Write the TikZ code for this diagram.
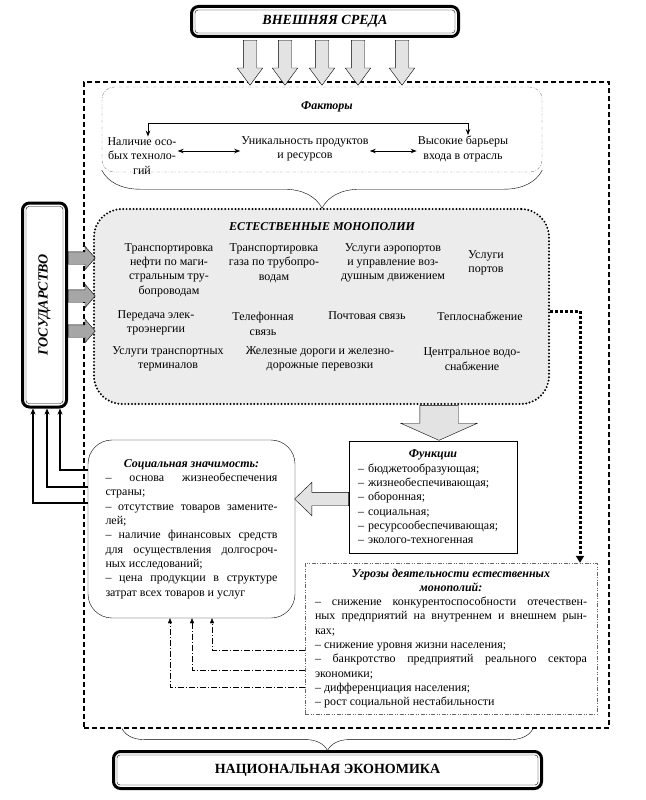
\documentclass[tikz,border=0pt]{standalone}
\usepackage{fontspec}
\setmainfont{Liberation Serif}
\usepackage{graphicx}
\usetikzlibrary{
    positioning,              % Relative positioning
    shapes.arrows,            % Fat block arrows
    arrows.meta,              % Modern arrow tips
    calc,                     % Coordinate calculations
    decorations.pathreplacing % Braces
}
% thin inner line of the double frames
\newcommand{\innerframe}[1]{%
    \draw[rounded corners=3pt] ($(#1.north west)+(5,5)$) rectangle ($(#1.south east)+(-5,-5)$);}

\begin{document}
\begin{tikzpicture}[x=1pt,y=-1pt,
    font=\fontsize{12}{14.3}\selectfont,
    frame/.style={draw,line width=3pt,rounded corners=7pt,inner sep=0pt},
    headline/.style={font=\fontsize{14}{16}\selectfont\bfseries},
    boldit/.style={font=\fontsize{12}{14.3}\selectfont\bfseries\itshape},
    fatarrow/.style n args={4}{single arrow,draw,inner xsep=0pt,inner ysep=#2,
        minimum height=#1,minimum width=0pt,
        single arrow head extend=#3,single arrow tip angle=#4},
    zone/.style={draw,line width=1.1pt,dash pattern=on 5pt off 3pt},
    factbox/.style={draw=gray,rounded corners=12pt,
        dash pattern=on 3pt off 1.5pt on 0.8pt off 1.5pt},
    monobox/.style={draw,fill=gray!15,rounded corners=28pt,line width=2.2pt,
        dash pattern=on 0pt off 3.4pt,line cap=round},
    service/.style={align=center,inner sep=1pt},
    socbox/.style={draw,rounded corners=24pt,text width=172pt,
        inner xsep=17.5pt,align=justify},
    funcbox/.style={draw,text width=150pt,inner xsep=9pt,align=left},
    threatbox/.style={draw=gray!80!black,text width=272pt,inner xsep=10pt,align=justify,
        dash pattern=on 4pt off 1.5pt on 1pt off 1.5pt on 1pt off 1.5pt},
    curly/.style={decorate,decoration={brace,amplitude=#1}},
    link/.style={-{Stealth[length=6pt,width=5pt]},line width=2pt},
    dashdot link/.style={-{Triangle[length=5pt,width=4pt]},
        dash pattern=on 6pt off 2pt on 1pt off 2pt},
    bigdots/.style={-{Triangle[length=7pt,width=8pt]},line width=3pt,
        dash pattern=on 3pt off 2pt},
    twoway/.style={{Stealth[length=6pt]}-{Stealth[length=6pt]},line width=0.8pt},
]
\useasboundingbox (0,0) rectangle (645,800);

% dashed frame of the whole system
\node[zone,minimum width=525pt,minimum height=646pt] (zone) at (346.5,405) {};

% external environment
\node[frame,headline,minimum width=267pt,minimum height=30pt] (env) at (325,21.5) {\itshape ВНЕШНЯЯ СРЕДА};
\innerframe{env}
\foreach \x in {250,285,322,358,402}
    \node[fatarrow={45pt}{6.5pt}{6pt}{73},fill=gray!22,rotate=-90,anchor=west] at (\x,40) {};

% factors
\node[factbox,minimum width=440pt,minimum height=85pt] (fac) at (322,129.5) {};
\node[boldit] (factitle) at (327,107) {Факторы};
\node[service] (tech) at (142,156) {Наличие осо-\\бых техноло-\\гий};
\node[service] (uniq) at (305,149) {Уникальность продуктов\\и ресурсов};
\node[service] (barr) at (463,149) {Высокие барьеры\\входа в отрасль};
\draw[twoway] ([xshift=6pt]tech.north) -- ++(0,-13) -| ([xshift=5pt]barr.north);
\draw[twoway] ([yshift=5pt]tech.east) -- ([yshift=5pt]uniq.west |- tech.east);
\draw[twoway] ([yshift=-2pt]uniq.east) -- ([yshift=-2pt]barr.west |- uniq.east);
\draw[curly=38pt] ([yshift=2pt]fac.south east) -- ([yshift=2pt]fac.south west);

% natural monopolies
\node[monobox,minimum width=455pt,minimum height=195pt] (mono) at (321.5,306.5) {};
\node[boldit] (monotitle) at (322,227) {ЕСТЕСТВЕННЫЕ МОНОПОЛИИ};
\node[service] (oil) at (169,270) {Транспортировка\\нефти по маги-\\стральным тру-\\бопроводам};
\node[service] (gas) at (274,263) {Транспортировка\\газа по трубопро-\\водам};
\node[service] (air) at (393,263) {Услуги аэропортов\\и управление воз-\\душным движением};
\node[service] (port) at (486,263) {Услуги\\портов};
\node[service] (power) at (156,323) {Передача элек-\\троэнергии};
\node[service] (phone) at (263,324) {Телефонная\\связь};
\node[service] (post) at (367,316) {Почтовая связь};
\node[service] (heat) at (480,316) {Теплоснабжение};
\node[service] (term) at (168,359) {Услуги транспортных\\терминалов};
\node[service] (rail) at (320,359) {Железные дороги и железно-\\дорожные перевозки};
\node[service] (water) at (472,359) {Центральное водо-\\снабжение};

% state
\node[frame,headline,minimum width=44pt,minimum height=204pt] (gov) at (44.5,305) {\rotatebox{90}{\itshape ГОСУДАРСТВО}};
\innerframe{gov}
\foreach \y in {258,296,331}
    \node[fatarrow={27pt}{6pt}{5.5pt}{98},fill=gray!70,anchor=west] at (gov.east |- 0,\y) {};

% functions
\node[fatarrow={35pt}{19pt}{19pt}{132},fill=gray!22,rotate=-90,anchor=west] (down) at (mono.south -| 439,0) {};
\node[funcbox,minimum height=112pt] (func) at (433,497) {\makebox[\linewidth]{\bfseries\itshape Функции}\\
    – бюджетообразующая;\\
    – жизнеобеспечивающая;\\
    – оборонная;\\
    – социальная;\\
    – ресурсообеспечивающая;\\
    – эколого-техногенная};

% social importance
\node[socbox,minimum height=178pt] (soc) at (191.5,529) {\makebox[\linewidth]{\bfseries\itshape Социальная значимость:}\par
    – основа жизнеобеспечения\linebreak страны;\par
    – отсутствие товаров замените-\linebreak лей;\par
    – наличие финансовых средств\linebreak для осуществления долгосроч-\linebreak ных исследований;\par
    – цена продукции в структуре\linebreak затрат всех товаров и услуг};
\node[fatarrow={54pt}{6.5pt}{10pt}{88},fill=gray!22,rotate=180,anchor=west] (left) at ([yshift=-2pt]func.west) {};

% threats
\node[threatbox,minimum height=151pt] (threat) at (451,638.5) {\makebox[\linewidth]{\bfseries\itshape Угрозы деятельности естественных}\par
    \makebox[\linewidth]{\bfseries\itshape монополий:}\par
    – снижение конкурентоспособности отечествен-\linebreak ных предприятий на внутреннем и внешнем рын-\linebreak ках;\par
    – снижение уровня жизни населения;\par
    – банкротство предприятий реального сектора\linebreak экономики;\par
    – дифференциация населения;\par
    – рост социальной нестабильности};
\draw[bigdots] (mono.east |- 0,311) -| (threat.north -| 580,0);

% feedback links
\foreach \x/\y in {60/470,47/487,33/503}
    \draw[link] (soc.west |- 0,\y) -| (gov.south -| \x,0);
\foreach \x/\y in {212/650,192/670,170/687}
    \draw[dashdot link] (threat.west |- 0,\y) -| (soc.south -| \x,0);

% national economy
\node[frame,headline,minimum width=428pt,minimum height=37pt] (nat) at (327.5,770) {НАЦИОНАЛЬНАЯ ЭКОНОМИКА};
\innerframe{nat}
\draw[curly=22pt] ($(zone.south -| nat.east)+(-10,0)$) -- ($(zone.south -| nat.west)+(10,0)$);
\end{tikzpicture}
\end{document}
